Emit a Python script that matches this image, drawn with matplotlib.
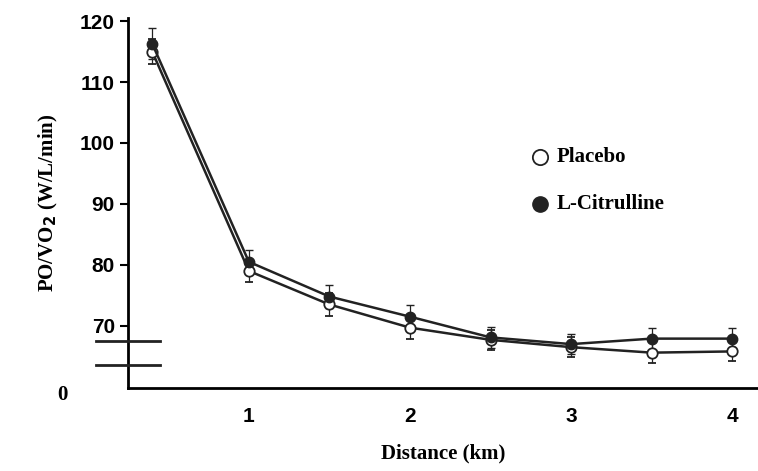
import numpy as np
import matplotlib.pyplot as plt

distance = [0.4, 1.0, 1.5, 2.0, 2.5, 3.0, 3.5, 4.0]
placebo = [115.0, 79.0, 73.5, 69.7, 67.7, 66.5, 65.6, 65.8]
placebo_err = [2.0, 1.8, 1.9, 1.8, 1.6, 1.6, 1.7, 1.6]
citrulline = [116.3, 80.5, 74.8, 71.5, 68.1, 67.0, 67.9, 67.9]
citrulline_err = [2.6, 2.0, 1.9, 1.9, 1.7, 1.7, 1.8, 1.8]

fig = plt.figure(figsize=(7.58, 4.71), dpi=100)
ax = fig.add_axes([128 / 758, 1 - 388 / 471, 630 / 758, 370 / 471])

ax.errorbar(distance, placebo, yerr=placebo_err, color='#222222', lw=1.8, marker='o',
            mfc='white', mec='#222222', ms=7.5, mew=1.3, capsize=3, elinewidth=0.9, zorder=3)
ax.errorbar(distance, citrulline, yerr=citrulline_err, color='#222222', lw=1.8, marker='o',
            mfc='#222222', mec='#222222', ms=7.5, capsize=3, elinewidth=0.9, zorder=3)

ax.set_xlim(0.25, 4.16)
ax.set_ylim(59.8, 120.5)
for s in ['top', 'right']:
    ax.spines[s].set_visible(False)
for s in ['left', 'bottom']:
    ax.spines[s].set_linewidth(2)
ax.set_xticks([1, 2, 3, 4])
ax.set_yticks([70, 80, 90, 100, 110, 120])
ax.tick_params(axis='x', length=0, pad=14)
ax.tick_params(axis='y', length=6, width=1.5, direction='out')
for lab in ax.get_xticklabels() + ax.get_yticklabels():
    lab.set_fontfamily('Liberation Sans')
    lab.set_fontweight('bold')
    lab.set_fontsize(15)

# axis break
ax.plot([0.05, 0.45], [67.5, 67.5], color='#222222', lw=2, clip_on=False, zorder=4)
ax.plot([0.05, 0.45], [63.6, 63.6], color='#222222', lw=2, clip_on=False, zorder=4)
ax.text(-0.16, 58.7, '0', ha='center', va='center', fontsize=15, fontweight='bold',
        family='Liberation Serif')

ax.set_xlabel('Distance (km)', fontsize=15, fontweight='bold', family='Liberation Serif', labelpad=12)
ax.set_ylabel(r'PO/VO$_\mathbf{2}$ (W/L/min)', fontsize=15, fontweight='bold',
              family='Liberation Serif', labelpad=14)

ax.plot([2.81], [97.7], 'o', mfc='white', mec='#222222', ms=11, mew=1.3)
ax.text(2.91, 97.7, 'Placebo', va='center', fontsize=15, fontweight='bold', family='Liberation Serif')
ax.plot([2.81], [90.0], 'o', mfc='#222222', mec='#222222', ms=11)
ax.text(2.91, 90.0, 'L-Citrulline', va='center', fontsize=15, fontweight='bold', family='Liberation Serif')

fig.savefig('out.png', dpi=100)
